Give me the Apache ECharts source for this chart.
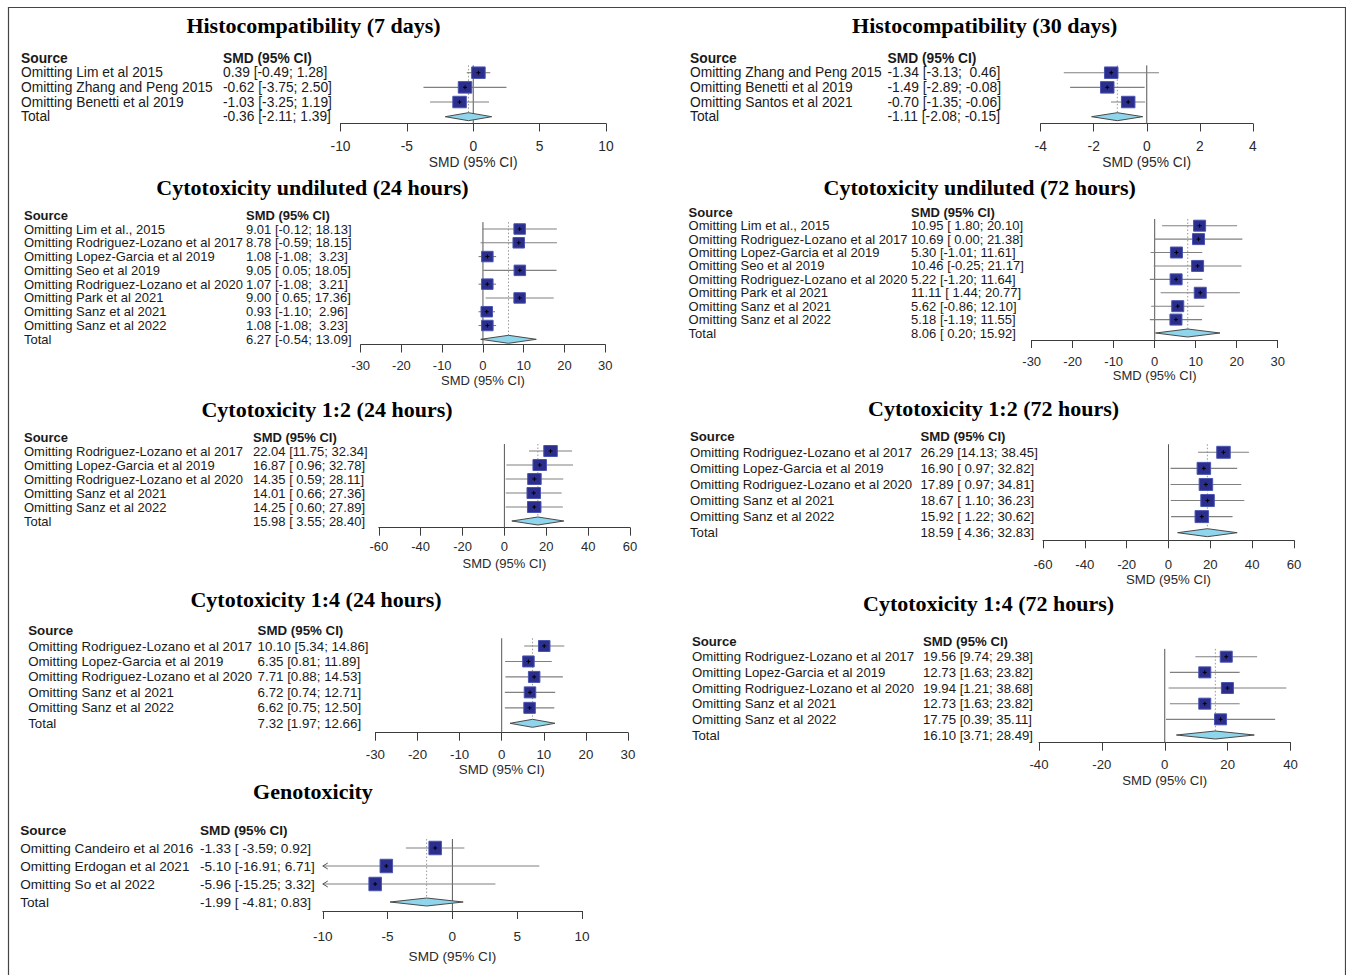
<!DOCTYPE html>
<html>
<head>
<meta charset="utf-8">
<script src="https://cdn.jsdelivr.net/npm/echarts@6/dist/echarts.min.js"></script>
<style>
html,body{margin:0;padding:0;background:#ffffff;}
#chart{width:1346px;height:975px;}
</style>
</head>
<body>
<div id="chart"></div>
<script>
// ---------------- DATA ----------------
const panelTitles = [
  "Histocompatibility (7 days)",
  "Histocompatibility (30 days)",
  "Cytotoxicity undiluted (24 hours)",
  "Cytotoxicity undiluted (72 hours)",
  "Cytotoxicity 1:2 (24 hours)",
  "Cytotoxicity 1:2 (72 hours)",
  "Cytotoxicity 1:4 (24 hours)",
  "Cytotoxicity 1:4 (72 hours)",
  "Genotoxicity"
];
const headerSource = "Source";
const headerEffect = "SMD (95% CI)";
const axisTitle = "SMD (95% CI)";
const totalLabel = "Total";

// Histocompatibility (7 days)
const hist7Sources = ["Omitting Lim et al 2015", "Omitting Zhang and Peng 2015", "Omitting Benetti et al 2019"];
const hist7Smd   = [0.39, -0.62, -1.03];
const hist7Lower = [-0.49, -3.75, -3.25];
const hist7Upper = [1.28, 2.50, 1.19];
const hist7Total = [-0.36, -2.11, 1.39];
const hist7Ticks = [-10, -5, 0, 5, 10];

// Histocompatibility (30 days)
const hist30Sources = ["Omitting Zhang and Peng 2015", "Omitting Benetti et al 2019", "Omitting Santos et al 2021"];
const hist30Smd   = [-1.34, -1.49, -0.70];
const hist30Lower = [-3.13, -2.89, -1.35];
const hist30Upper = [0.46, -0.08, -0.06];
const hist30Total = [-1.11, -2.08, -0.15];
const hist30Ticks = [-4, -2, 0, 2, 4];

// Cytotoxicity undiluted (24 hours)
const undil24Sources = ["Omitting Lim et al., 2015", "Omitting Rodriguez-Lozano et al 2017", "Omitting Lopez-Garcia et al 2019", "Omitting Seo et al 2019", "Omitting Rodriguez-Lozano et al 2020", "Omitting Park et al 2021", "Omitting Sanz et al 2021", "Omitting Sanz et al 2022"];
const undil24Smd   = [9.01, 8.78, 1.08, 9.05, 1.07, 9.00, 0.93, 1.08];
const undil24Lower = [-0.12, -0.59, -1.08, 0.05, -1.08, 0.65, -1.10, -1.08];
const undil24Upper = [18.13, 18.15, 3.23, 18.05, 3.21, 17.36, 2.96, 3.23];
const undil24Total = [6.27, -0.54, 13.09];
const undil24Ticks = [-30, -20, -10, 0, 10, 20, 30];

// Cytotoxicity undiluted (72 hours)
const undil72Sources = ["Omitting Lim et al., 2015", "Omitting Rodriguez-Lozano et al 2017", "Omitting Lopez-Garcia et al 2019", "Omitting Seo et al 2019", "Omitting Rodriguez-Lozano et al 2020", "Omitting Park et al 2021", "Omitting Sanz et al 2021", "Omitting Sanz et al 2022"];
const undil72Smd   = [10.95, 10.69, 5.30, 10.46, 5.22, 11.11, 5.62, 5.18];
const undil72Lower = [1.80, 0.00, -1.01, -0.25, -1.20, 1.44, -0.86, -1.19];
const undil72Upper = [20.10, 21.38, 11.61, 21.17, 11.64, 20.77, 12.10, 11.55];
const undil72Total = [8.06, 0.20, 15.92];
const undil72Ticks = [-30, -20, -10, 0, 10, 20, 30];

// Cytotoxicity 1:2 (24 hours)
const half24Sources = ["Omitting Rodriguez-Lozano et al 2017", "Omitting Lopez-Garcia et al 2019", "Omitting Rodriguez-Lozano et al 2020", "Omitting Sanz et al 2021", "Omitting Sanz et al 2022"];
const half24Smd   = [22.04, 16.87, 14.35, 14.01, 14.25];
const half24Lower = [11.75, 0.96, 0.59, 0.66, 0.60];
const half24Upper = [32.34, 32.78, 28.11, 27.36, 27.89];
const half24Total = [15.98, 3.55, 28.40];
const half24Ticks = [-60, -40, -20, 0, 20, 40, 60];

// Cytotoxicity 1:2 (72 hours)
const half72Sources = ["Omitting Rodriguez-Lozano et al 2017", "Omitting Lopez-Garcia et al 2019", "Omitting Rodriguez-Lozano et al 2020", "Omitting Sanz et al 2021", "Omitting Sanz et al 2022"];
const half72Smd   = [26.29, 16.90, 17.89, 18.67, 15.92];
const half72Lower = [14.13, 0.97, 0.97, 1.10, 1.22];
const half72Upper = [38.45, 32.82, 34.81, 36.23, 30.62];
const half72Total = [18.59, 4.36, 32.83];
const half72Ticks = [-60, -40, -20, 0, 20, 40, 60];

// Cytotoxicity 1:4 (24 hours)
const quart24Sources = ["Omitting Rodriguez-Lozano et al 2017", "Omitting Lopez-Garcia et al 2019", "Omitting Rodriguez-Lozano et al 2020", "Omitting Sanz et al 2021", "Omitting Sanz et al 2022"];
const quart24Smd   = [10.10, 6.35, 7.71, 6.72, 6.62];
const quart24Lower = [5.34, 0.81, 0.88, 0.74, 0.75];
const quart24Upper = [14.86, 11.89, 14.53, 12.71, 12.50];
const quart24Total = [7.32, 1.97, 12.66];
const quart24Ticks = [-30, -20, -10, 0, 10, 20, 30];

// Cytotoxicity 1:4 (72 hours)
const quart72Sources = ["Omitting Rodriguez-Lozano et al 2017", "Omitting Lopez-Garcia et al 2019", "Omitting Rodriguez-Lozano et al 2020", "Omitting Sanz et al 2021", "Omitting Sanz et al 2022"];
const quart72Smd   = [19.56, 12.73, 19.94, 12.73, 17.75];
const quart72Lower = [9.74, 1.63, 1.21, 1.63, 0.39];
const quart72Upper = [29.38, 23.82, 38.68, 23.82, 35.11];
const quart72Total = [16.10, 3.71, 28.49];
const quart72Ticks = [-40, -20, 0, 20, 40];

// Genotoxicity
const genoSources = ["Omitting Candeiro et al 2016", "Omitting Erdogan et al 2021", "Omitting So et al 2022"];
const genoSmd   = [-1.33, -5.10, -5.96];
const genoLower = [-3.59, -16.91, -15.25];
const genoUpper = [0.92, 6.71, 3.32];
const genoTotal = [-1.99, -4.81, 0.83];
const genoTicks = [-10, -5, 0, 5, 10];

const panels = [
  {title: panelTitles[0], sources: hist7Sources, smd: hist7Smd, lower: hist7Lower, upper: hist7Upper, total: hist7Total, ticks: hist7Ticks},
  {title: panelTitles[1], sources: hist30Sources, smd: hist30Smd, lower: hist30Lower, upper: hist30Upper, total: hist30Total, ticks: hist30Ticks},
  {title: panelTitles[2], sources: undil24Sources, smd: undil24Smd, lower: undil24Lower, upper: undil24Upper, total: undil24Total, ticks: undil24Ticks},
  {title: panelTitles[3], sources: undil72Sources, smd: undil72Smd, lower: undil72Lower, upper: undil72Upper, total: undil72Total, ticks: undil72Ticks},
  {title: panelTitles[4], sources: half24Sources, smd: half24Smd, lower: half24Lower, upper: half24Upper, total: half24Total, ticks: half24Ticks},
  {title: panelTitles[5], sources: half72Sources, smd: half72Smd, lower: half72Lower, upper: half72Upper, total: half72Total, ticks: half72Ticks},
  {title: panelTitles[6], sources: quart24Sources, smd: quart24Smd, lower: quart24Lower, upper: quart24Upper, total: quart24Total, ticks: quart24Ticks},
  {title: panelTitles[7], sources: quart72Sources, smd: quart72Smd, lower: quart72Lower, upper: quart72Upper, total: quart72Total, ticks: quart72Ticks},
  {title: panelTitles[8], sources: genoSources, smd: genoSmd, lower: genoLower, upper: genoUpper, total: genoTotal, ticks: genoTicks}
];

// ---------------- LAYOUT (pixels, styles) ----------------
const layout = [
  {x0: 340.5, x1: 606, row0: 72.7, rowT: 116.7, axisY: 123.5, nameX: 21, smdX: 223, tx: 313.5, ty: 25, fs: 13.8, box: [13.5, 11.5], lab: 15.5, gap: 31.5},
  {x0: 1040.7, x1: 1252.8, row0: 72.7, rowT: 116.7, axisY: 123.5, nameX: 690, smdX: 887.5, tx: 984.7, ty: 25, fs: 13.8, box: [13.5, 11.5], lab: 15.5, gap: 31.5},
  {x0: 360.7, x1: 605.2, row0: 229, rowT: 339.3, axisY: 344.5, nameX: 24, smdX: 246, tx: 312.5, ty: 187, fs: 13, box: [11.5, 10.5], lab: 14.2, gap: 29.2},
  {x0: 1031.7, x1: 1277.7, row0: 225.7, rowT: 333, axisY: 340, nameX: 688.6, smdX: 911, tx: 979.7, ty: 187, fs: 13, box: [12, 11], lab: 15.2, gap: 26.8},
  {x0: 378.8, x1: 630, row0: 451, rowT: 521, axisY: 527.7, nameX: 24, smdX: 253, tx: 327, ty: 409, fs: 13, box: [13.5, 11], lab: 12.5, gap: 29.1},
  {x0: 1043, x1: 1294, row0: 452.3, rowT: 532.7, axisY: 540.3, nameX: 690, smdX: 920.5, tx: 993.6, ty: 408, fs: 13.2, box: [13.5, 12], lab: 17.4, gap: 32.4},
  {x0: 375.4, x1: 628, row0: 646, rowT: 723.3, axisY: 732.7, nameX: 28.2, smdX: 257.6, tx: 316, ty: 599, fs: 13.3, box: [11.5, 11], lab: 15.6, gap: 30.6},
  {x0: 1039, x1: 1290.5, row0: 656.7, rowT: 735, axisY: 742.7, nameX: 691.9, smdX: 923, tx: 988.6, ty: 603, fs: 13.2, box: [12, 11], lab: 15.7, gap: 31.7},
  {x0: 322.8, x1: 582, row0: 848, rowT: 902, axisY: 911, nameX: 20.2, smdX: 200, tx: 313, ty: 791, fs: 13.6, box: [12.5, 13.5], lab: 18.9, gap: 38.9}
];

const SANS = '"Liberation Sans", Arial, Helvetica, sans-serif';
const SERIF = '"Liberation Serif", "Times New Roman", serif';
const TEXT_COLOR = '#1a1a1a';
const AXIS_COLOR = '#3c3c3c';
const CI_COLOR = '#808080';
const BOX_FILL = '#2b2e8c';
const BOX_STROKE = '#4b55b0';
const DIAMOND_FILL = '#8fd5ec';
const DIAMOND_STROKE = '#4a4a4a';
const NBSP = '\u00A0';

function padColumn(vals) {
  const s = vals.map(v => v.toFixed(2));
  const w = Math.max.apply(null, s.map(t => t.length));
  return s.map(t => NBSP.repeat(w - t.length) + t);
}

function effectTexts(p) {
  const est = p.smd.concat([p.total[0]]);
  const lo = padColumn(p.lower.concat([p.total[1]]));
  const hi = padColumn(p.upper.concat([p.total[2]]));
  return est.map((e, k) => e.toFixed(2) + ' [' + lo[k] + '; ' + hi[k] + ']');
}

function txt(text, x, y, fs, weight) {
  return {
    type: 'text', z2: 20,
    style: {
      text: text, x: x, y: y, align: 'left', verticalAlign: 'middle',
      font: (weight || 'normal') + ' ' + fs + 'px ' + SANS, fill: TEXT_COLOR
    }
  };
}

function makeRender(p, L, yMax) {
  const n = p.sources.length;
  const labels = effectTexts(p);
  const xmin = p.ticks[0], xmax = p.ticks[p.ticks.length - 1];
  return function (params, api) {
    const idx = params.dataIndex;
    const children = [];
    if (idx === 0) {
      const hy = api.coord([0, -1])[1];
      children.push(txt(headerSource, L.nameX, hy, L.fs, 'bold'));
      children.push(txt(headerEffect, L.smdX, hy, L.fs, 'bold'));
      // zero (no-effect) line
      const z0 = api.coord([0, -0.5]);
      const z1 = api.coord([0, yMax]);
      children.push({type: 'line', z2: 1, shape: {x1: z0[0], y1: z0[1], x2: z1[0], y2: z1[1]},
        style: {stroke: '#555', lineWidth: 1}});
      // pooled estimate dotted line
      const d0 = api.coord([p.total[0], -0.5]);
      const d1 = api.coord([p.total[0], n - 0.25]);
      children.push({type: 'line', z2: 2, shape: {x1: d0[0], y1: d0[1], x2: d1[0], y2: d1[1]},
        style: {stroke: '#9a9a9a', lineWidth: 1, lineDash: [1.5, 2]}});
      return {type: 'group', children: children};
    }
    const est = api.value(0), row = api.value(1), lo = api.value(2), hi = api.value(3);
    const k = idx - 1;
    const c = api.coord([est, row]);
    const y = c[1];
    if (k < n) {
      children.push(txt(p.sources[k], L.nameX, y, L.fs));
      children.push(txt(labels[k], L.smdX, y, L.fs));
      const loC = Math.max(lo, xmin), hiC = Math.min(hi, xmax);
      const a = api.coord([loC, row]), b = api.coord([hiC, row]);
      children.push({type: 'line', z2: 5, shape: {x1: a[0], y1: y, x2: b[0], y2: y},
        style: {stroke: CI_COLOR, lineWidth: 1.1}});
      if (lo < xmin) {
        children.push({type: 'polyline', z2: 5, shape: {points: [[a[0] + 5, y - 3], [a[0], y], [a[0] + 5, y + 3]]},
          style: {stroke: '#555', lineWidth: 1, fill: 'none'}});
      }
      if (hi > xmax) {
        children.push({type: 'polyline', z2: 5, shape: {points: [[b[0] - 5, y - 3], [b[0], y], [b[0] - 5, y + 3]]},
          style: {stroke: '#555', lineWidth: 1, fill: 'none'}});
      }
      const w = L.box[0], h = L.box[1];
      children.push({type: 'rect', z2: 10, shape: {x: c[0] - w / 2, y: y - h / 2, width: w, height: h},
        style: {fill: BOX_FILL, stroke: BOX_STROKE, lineWidth: 1}});
      children.push({type: 'line', z2: 11, shape: {x1: c[0], y1: y - 2, x2: c[0], y2: y + 2},
        style: {stroke: '#000', lineWidth: 1}});
      children.push({type: 'line', z2: 11, shape: {x1: c[0] - 2, y1: y, x2: c[0] + 2, y2: y},
        style: {stroke: '#000', lineWidth: 1}});
    } else {
      children.push(txt(totalLabel, L.nameX, y, L.fs));
      children.push(txt(labels[n], L.smdX, y, L.fs));
      const a = api.coord([lo, row]), b = api.coord([hi, row]);
      const hh = 4;
      children.push({type: 'polygon', z2: 10, shape: {points: [[a[0], y], [c[0], y - hh], [b[0], y], [c[0], y + hh]]},
        style: {fill: DIAMOND_FILL, stroke: DIAMOND_STROKE, lineWidth: 1}});
    }
    return {type: 'group', children: children};
  };
}

const option = {
  animation: false,
  backgroundColor: '#ffffff',
  grid: [], xAxis: [], yAxis: [], series: [],
  graphic: [
    {type: 'polyline', shape: {points: [[8.5, 980], [8.5, 7.5], [1345.5, 7.5], [1345.5, 980]]},
      style: {stroke: '#444', lineWidth: 1.2, fill: 'none'}, silent: true}
  ]
};

panels.forEach(function (p, i) {
  const L = layout[i];
  const n = p.sources.length;
  const sp = (L.rowT - L.row0) / n;
  const top = L.row0 - sp / 2;
  const yMax = n + (L.axisY - L.rowT) / sp;
  option.grid.push({left: L.x0, top: top, width: L.x1 - L.x0, height: L.axisY - top, containLabel: false});
  option.xAxis.push({
    gridIndex: i, type: 'value',
    min: p.ticks[0], max: p.ticks[p.ticks.length - 1], interval: p.ticks[1] - p.ticks[0],
    axisLine: {show: true, onZero: false, lineStyle: {color: AXIS_COLOR, width: 1}},
    axisTick: {show: true, inside: false, length: 8, lineStyle: {color: AXIS_COLOR, width: 1}},
    axisLabel: {show: true, margin: L.lab, fontSize: L.fs, fontFamily: SANS, color: '#2a2a2a'},
    splitLine: {show: false},
    name: axisTitle, nameLocation: 'middle', nameGap: L.gap,
    nameTextStyle: {fontSize: L.fs, fontFamily: SANS, color: '#2a2a2a'}
  });
  option.yAxis.push({gridIndex: i, type: 'value', min: -0.5, max: yMax, inverse: true, show: false});
  const data = [[0, -1, 0, 0]];
  for (let k = 0; k < n; k++) data.push([p.smd[k], k, p.lower[k], p.upper[k]]);
  data.push([p.total[0], n, p.total[1], p.total[2]]);
  option.series.push({
    type: 'custom', xAxisIndex: i, yAxisIndex: i, clip: false, silent: true,
    encode: {x: 0, y: 1},
    renderItem: makeRender(p, L, yMax), data: data
  });
  option.graphic.push({
    type: 'text', silent: true,
    style: {text: p.title, x: L.tx, y: L.ty, align: 'center', verticalAlign: 'middle',
      font: 'bold 22px ' + SERIF, fill: '#000'}
  });
});

const chart = echarts.init(document.getElementById('chart'), null, {renderer: 'svg', width: 1346, height: 975});
chart.setOption(option);
</script>
</body>
</html>
